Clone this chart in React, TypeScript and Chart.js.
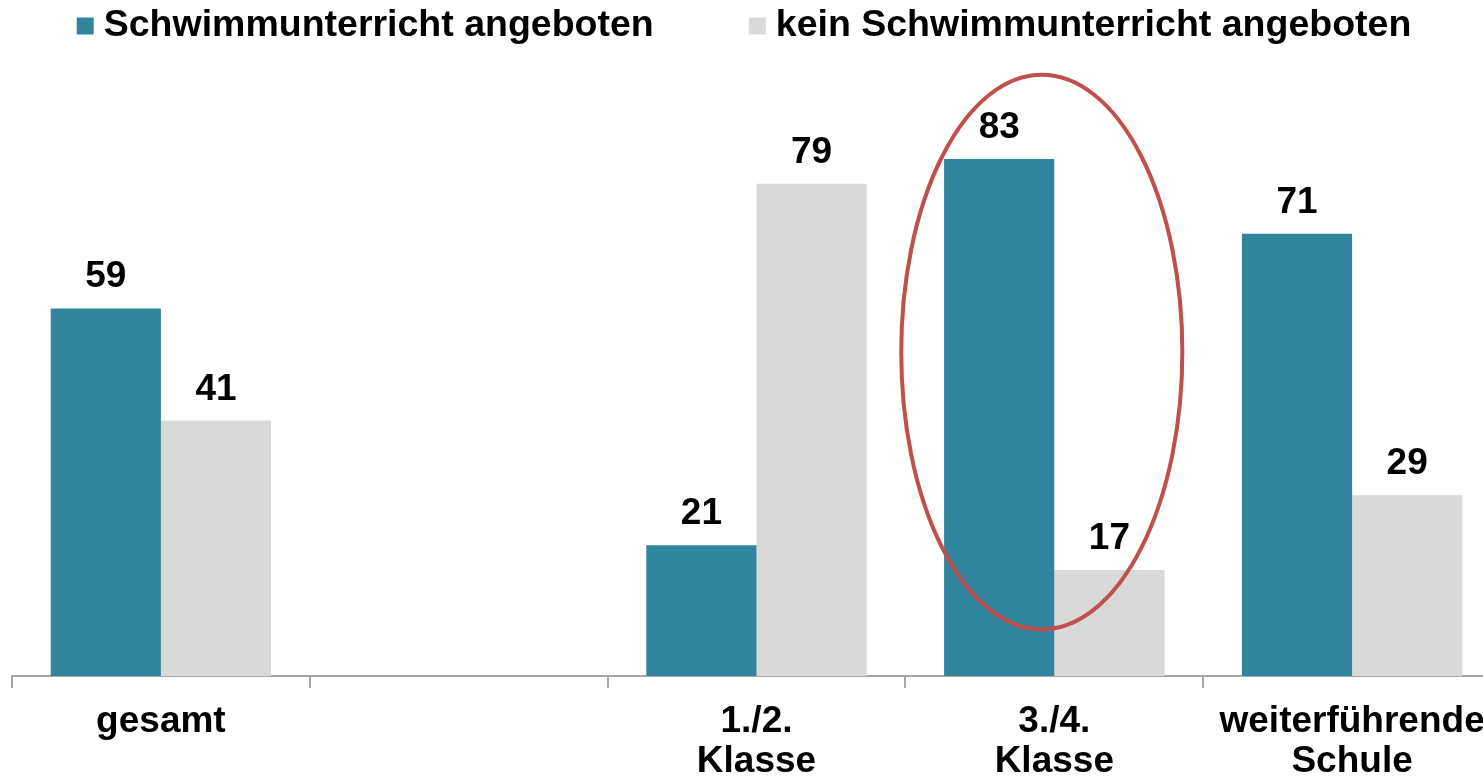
import React, { useEffect, useRef } from "react";
import { Chart, registerables } from "chart.js";

Chart.register(...registerables);

const categories: (string | string[])[] = ["gesamt", "", ["1./2.", "Klasse"], ["3./4.", "Klasse"], ["weiterführende", "Schule"]];
const seriesNames = ["Schwimmunterricht angeboten", "kein Schwimmunterricht angeboten"];
const angeboten: (number | null)[] = [59, null, 21, 83, 71];
const keinAngebot: (number | null)[] = [41, null, 79, 17, 29];
const colors = ["#31859C", "#D9D9D9"];

// highlighted category (red ellipse) and its vertical value range
const highlightIndex = 3;
const highlightRange = [7.5, 96.5];

const FONT = '"Liberation Sans", Arial, sans-serif';

const valueLabels = {
  id: "valueLabels",
  afterDatasetsDraw(chart: any) {
    const ctx = chart.ctx;
    ctx.save();
    ctx.font = `bold 37px ${FONT}`;
    ctx.fillStyle = "#000";
    ctx.textAlign = "center";
    ctx.textBaseline = "alphabetic";
    chart.data.datasets.forEach((ds: any, di: number) => {
      const meta = chart.getDatasetMeta(di);
      meta.data.forEach((bar: any, i: number) => {
        const v = ds.data[i];
        if (v === null || v === undefined) return;
        ctx.fillText(String(v), bar.x, bar.y - 21);
      });
    });
    ctx.restore();
  },
};

const ellipsePlugin = {
  id: "highlightEllipse",
  afterDatasetsDraw(chart: any) {
    const { ctx, scales } = chart;
    const x = scales.x;
    const y = scales.y;
    const catW = x.width / categories.length;
    const cx = x.getPixelForValue(highlightIndex) - 0.042 * catW;
    const yTop = y.getPixelForValue(highlightRange[1]);
    const yBot = y.getPixelForValue(highlightRange[0]);
    const cy = (yTop + yBot) / 2;
    const ry = (yBot - yTop) / 2;
    const rx = 0.472 * catW;
    ctx.save();
    ctx.beginPath();
    ctx.ellipse(cx, cy, rx, ry, 0, 0, Math.PI * 2);
    ctx.strokeStyle = "#C0504D";
    ctx.lineWidth = 4;
    ctx.stroke();
    ctx.restore();
  },
};

const customLegend = {
  id: "customLegend",
  afterDraw(chart: any) {
    const ctx = chart.ctx;
    ctx.save();
    ctx.font = `bold 37.5px ${FONT}`;
    const box = 17;
    const gap = 10;
    const itemGap = 95;
    const widths = seriesNames.map((n) => ctx.measureText(n).width);
    const total = widths.reduce((a, w) => a + box + gap + w, 0) + itemGap * (seriesNames.length - 1);
    const center = 744;
    let xPos = center - total / 2;
    const midY = 26;
    ctx.textBaseline = "middle";
    ctx.textAlign = "left";
    seriesNames.forEach((n, i) => {
      ctx.fillStyle = colors[i];
      ctx.fillRect(xPos, midY - box / 2, box, box);
      ctx.fillStyle = "#000";
      ctx.fillText(n, xPos + box + gap, midY);
      xPos += box + gap + widths[i] + itemGap;
    });
    ctx.restore();
  },
};

export default function App() {
  const ref = useRef<HTMLCanvasElement | null>(null);
  useEffect(() => {
    if (!ref.current) return;
    const chart = new Chart(ref.current, {
      type: "bar",
      data: {
        labels: categories,
        datasets: [
          { label: seriesNames[0], data: angeboten, backgroundColor: colors[0], categoryPercentage: 0.74, barPercentage: 1.0 },
          { label: seriesNames[1], data: keinAngebot, backgroundColor: colors[1], categoryPercentage: 0.74, barPercentage: 1.0 },
        ],
      },
      options: {
        responsive: false,
        animation: false,
        devicePixelRatio: 1,
        layout: { padding: { top: 53, left: 12, right: 19, bottom: 0 } },
        plugins: {
          legend: { display: false },
          tooltip: { enabled: false },
        },
        scales: {
          x: {
            grid: {
              display: true,
              drawOnChartArea: false,
              drawTicks: true,
              tickLength: 12,
              color: "#A6A6A6",
              lineWidth: 2,
              offset: true,
            },
            border: { display: true, color: "#A6A6A6", width: 2 },
            ticks: {
              color: "#000",
              font: { family: FONT, size: 37, weight: "bold", lineHeight: 1.08 },
              padding: 14,
              maxRotation: 0,
              autoSkip: false,
            },
            afterFit(scale: any) {
              scale.height = 103;
            },
          },
          y: {
            display: false,
            min: 0,
            max: 100,
          },
        },
      },
      plugins: [valueLabels, ellipsePlugin, customLegend],
    } as any);
    return () => chart.destroy();
  }, []);
  return (
    <div style={{ position: "fixed", left: 0, top: 0, width: 1483, height: 779, overflow: "hidden", background: "#fff" }}>
      <canvas ref={ref} width={1520} height={779} style={{ width: 1520, height: 779, display: "block" }} />
    </div>
  );
}
